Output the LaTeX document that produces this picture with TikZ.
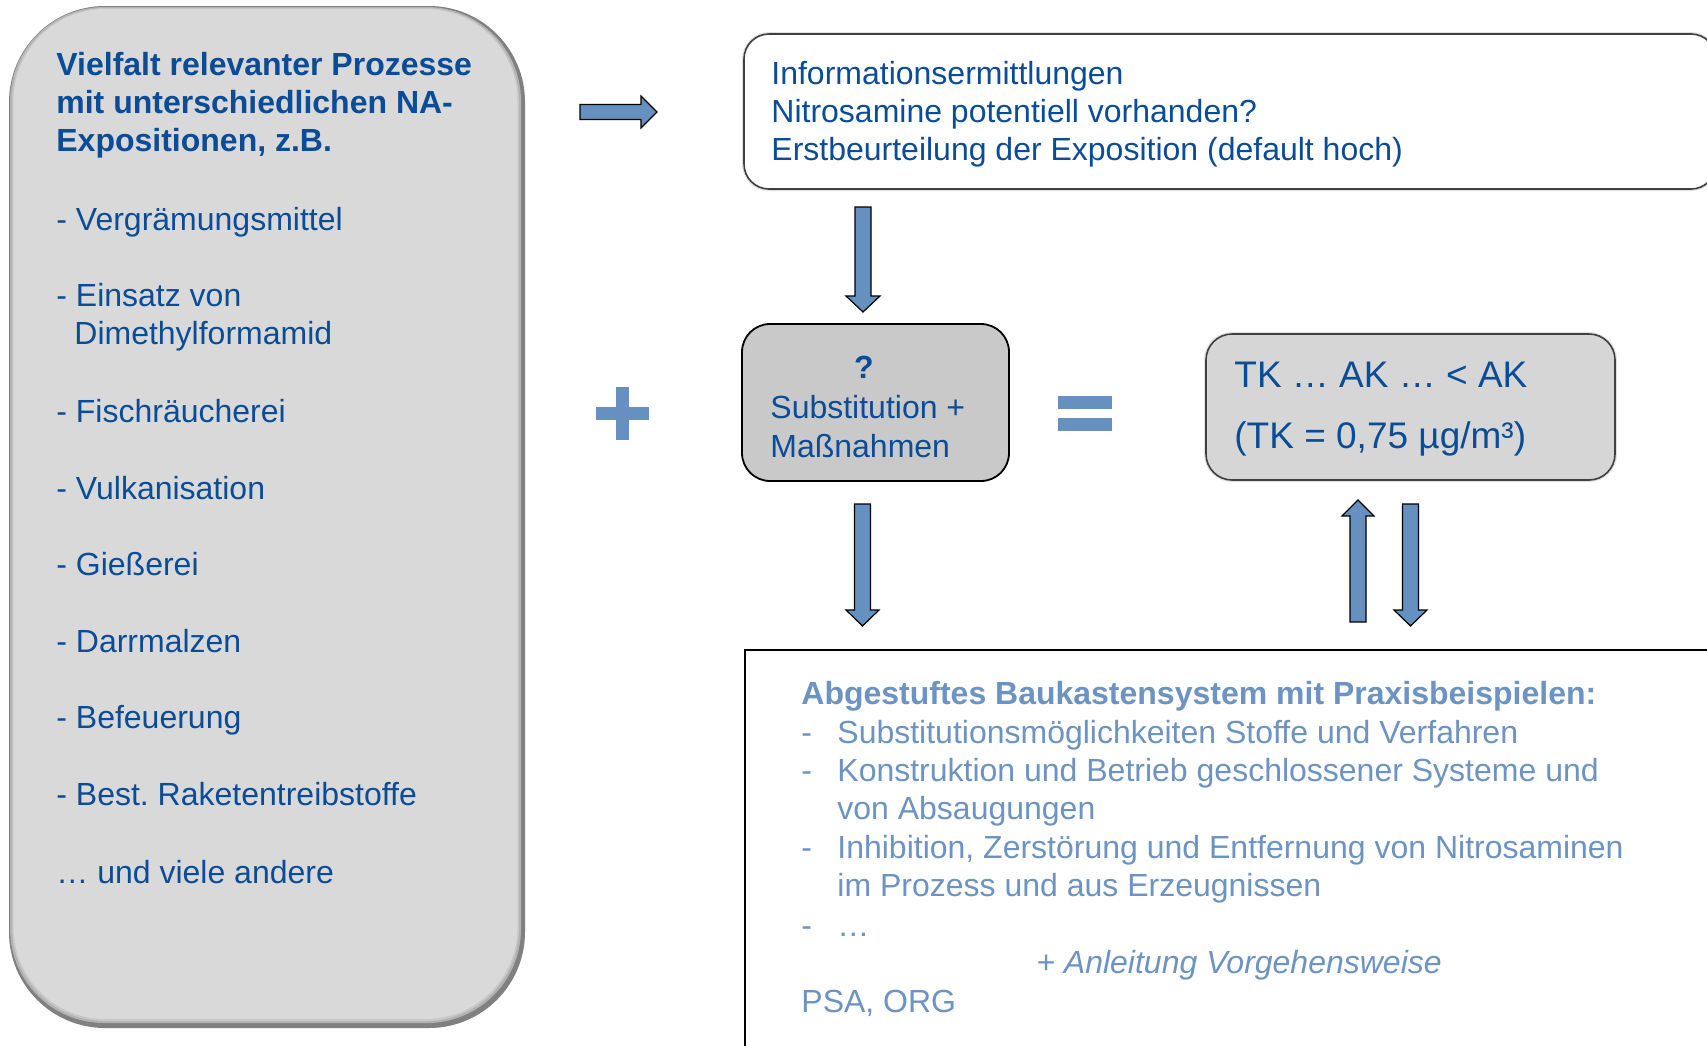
\documentclass[tikz,border=0pt]{standalone}
\usepackage{fontspec}
\setmainfont{Liberation Sans}
\frenchspacing
\definecolor{dblue}{HTML}{0B4C97}
\definecolor{lblue}{HTML}{6C93C2}
\definecolor{ablue}{HTML}{6590C0}
\begin{document}
\begin{tikzpicture}[x=0.5pt,y=-0.5pt,
  lt/.style={anchor=base west, inner sep=0pt, text=dblue, font=\fontsize{16}{19}\selectfont},
  ltb/.style={anchor=base west, inner sep=0pt, text=dblue, font=\fontsize{16}{19}\selectfont\bfseries},
  bt/.style={anchor=base west, inner sep=0pt, text=lblue, font=\fontsize{16}{19}\selectfont},
  tkt/.style={anchor=base west, inner sep=0pt, text=dblue, font=\fontsize{18.5}{22}\selectfont},
  barrow/.style={fill=ablue, draw=black, line width=0.6pt, line join=miter},
  sym/.style={fill=ablue, draw=none},
  panel/.style={rectangle, inner sep=0pt, outer sep=0pt}]
\useasboundingbox (0,0) rectangle (1707,1045);
\clip (0,0) rectangle (1707,1045);

% ---------- left panel (bevelled) ----------
\fill[black!50, rounded corners=48pt] (9,6) rectangle (525,1028);
\fill[black!30, rounded corners=47pt] (10,7) rectangle (521,1023);
\fill[black!22, rounded corners=46.5pt] (12,8) rectangle (519,1021);
\node[panel, fill=black!15, rounded corners=46pt, minimum width=252pt, minimum height=505pt] (left) at (265.5,514) {};

\node[ltb] (t1) at (56,75) {Vielfalt relevanter Prozesse};
\node[ltb] (t2) at (56,113) {mit unterschiedlichen NA-};
\node[ltb] (t3) at (56,151) {Expositionen, z.B.};
\node[lt] (i1) at (56,230) {- Vergrämungsmittel};
\node[lt] (i2) at (56,306) {- Einsatz von};
\node[lt] (i2b) at (74,344) {Dimethylformamid};
\node[lt] (i3) at (56,422) {- Fischräucherei};
\node[lt] (i4) at (56,499) {- Vulkanisation};
\node[lt] (i5) at (56,575) {- Gießerei};
\node[lt] (i6) at (56,652) {- Darrmalzen};
\node[lt] (i7) at (56,728) {- Befeuerung};
\node[lt] (i8) at (56,805) {- Best. Raketentreibstoffe};
\node[lt] (i9) at (56,883) {… und viele andere};

% ---------- arrow right ----------
\draw[barrow] (580,104.5) -- (641,104.5) -- (641,96) -- (657,112) -- (641,128) -- (641,119.5) -- (580,119.5) -- cycle;

% ---------- plus ----------
\fill[sym] (616,387) rectangle (629,440);
\fill[sym] (596,407) rectangle (649,420);

% ---------- info box ----------
\node[panel, draw=black!12, line width=2pt, rounded corners=12.5pt, minimum width=486pt, minimum height=77.5pt] at (1230,111.5) {};
\node[panel, fill=white, draw=black!75, line width=0.8pt, rounded corners=12.5pt, minimum width=486pt, minimum height=77.5pt] (info) at (1230,111.5) {};
\node[lt] (n1) at (771,84) {Informationsermittlungen};
\node[lt] (n2) at (771,122) {Nitrosamine potentiell vorhanden?};
\node[lt] (n3) at (771,160) {Erstbeurteilung der Exposition (default hoch)};

% ---------- arrow down 1 ----------
\draw[barrow] (855,207) -- (871,207) -- (871,296) -- (880,296) -- (863,312) -- (846,296) -- (855,296) -- cycle;

% ---------- substitution box ----------
\node[panel, fill=black!21, draw=black, line width=0.9pt, rounded corners=14pt, minimum width=133.5pt, minimum height=78.5pt] (mid) at (875.5,402.5) {};
\node[anchor=base, inner sep=0pt, text=dblue, font=\fontsize{16}{19}\selectfont\bfseries] (q) at (864,378) {?};
\node[lt] (m1) at (770,418) {Substitution +};
\node[lt] (m2) at (770,457) {Maßnahmen};

% ---------- equals ----------
\fill[sym] (1058,396) rectangle (1112,409);
\fill[sym] (1058,418) rectangle (1112,431);

% ---------- TK box ----------
\node[panel, draw=black!12, line width=2pt, rounded corners=13pt, minimum width=204.5pt, minimum height=73pt] at (1410.5,407) {};
\node[panel, fill=black!16, draw=black!75, line width=0.8pt, rounded corners=13pt, minimum width=204.5pt, minimum height=73pt] (tk) at (1410.5,407) {};
\node[tkt] (k1) at (1234,387) {TK … AK … < AK};
\node[tkt] (k2) at (1234,448) {(TK = 0,75 µg/m³)};

% ---------- arrows below ----------
\draw[barrow] (854.5,504) -- (870.5,504) -- (870.5,610) -- (879,610) -- (862.5,626) -- (846,610) -- (854.5,610) -- cycle;
\draw[barrow] (1350,622) -- (1366,622) -- (1366,516) -- (1374,516) -- (1358,500) -- (1342,516) -- (1350,516) -- cycle;
\draw[barrow] (1402.5,504) -- (1418.5,504) -- (1418.5,610) -- (1427,610) -- (1410.5,626) -- (1394,610) -- (1402.5,610) -- cycle;

% ---------- bottom box ----------
\node[panel, fill=white, draw=black, line width=1pt, minimum width=487.5pt, minimum height=205pt] (bot) at (1232.5,855) {};
\node[bt, font=\fontsize{16}{19}\selectfont\bfseries] (b0) at (801,704) {Abgestuftes Baukastensystem mit Praxisbeispielen:};
\node[bt] (d1) at (801,743) {-};
\node[bt] (b1) at (837,743) {Substitutionsmöglichkeiten Stoffe und Verfahren};
\node[bt] (d2) at (801,781) {-};
\node[bt] (b2) at (837,781) {Konstruktion und Betrieb geschlossener Systeme und};
\node[bt] (b2b) at (837,819) {von Absaugungen};
\node[bt] (d3) at (801,858) {-};
\node[bt] (b3) at (837,858) {Inhibition, Zerstörung und Entfernung von Nitrosaminen};
\node[bt] (b3b) at (837,896) {im Prozess und aus Erzeugnissen};
\node[bt] (d4) at (801,936) {-};
\node[bt] (b4) at (837,936) {…};
\node[bt, font=\fontsize{16}{19}\selectfont\itshape] (b5) at (1036,973) {+ Anleitung Vorgehensweise};
\node[bt] (b6) at (801,1012) {PSA, ORG};
\end{tikzpicture}
\end{document}
